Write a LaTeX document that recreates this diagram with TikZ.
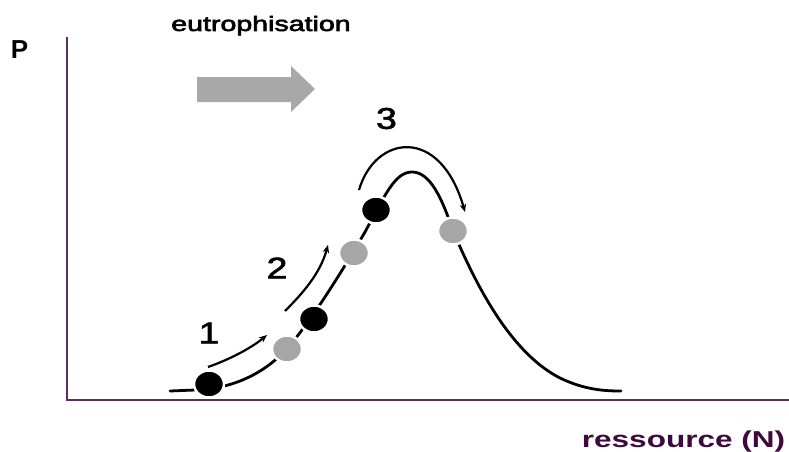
\documentclass[tikz,border=0pt]{standalone}
\usepackage{graphicx}
\usepackage{fontspec}
\setmainfont{Liberation Sans}
\newfontfamily\medfont[FakeBold=2.5]{Liberation Sans}
\newfontfamily\numfont[FakeBold=1.8]{Liberation Sans}
\usetikzlibrary{arrows.meta,shapes.geometric}
\definecolor{axiscol}{RGB}{95,45,95}
\definecolor{labcol}{RGB}{60,10,60}
\definecolor{dotgray}{RGB}{166,166,166}
\definecolor{arrgray}{RGB}{168,168,168}
\begin{document}
\begin{tikzpicture}[x=1pt,y=-1pt,
  axisline/.style={draw=axiscol,line width=1.5pt},
  curveline/.style={line width=2.8pt,line cap=round,line join=round},
  movearrow/.style={line width=2.2pt,-{Stealth[length=8pt,width=6.5pt]}},
  dotbase/.style={ellipse,minimum width=30pt,minimum height=27pt,inner sep=0pt,draw=white,line width=2.5pt},
  blackdot/.style={dotbase,fill=black},
  graydot/.style={dotbase,fill=dotgray},
  numlabel/.style={font=\numfont\fontsize{30}{32}\selectfont,inner sep=0pt}]
\useasboundingbox (0,0) rectangle (789,452);
% axes
\coordinate (origin) at (67,400);
\coordinate (ytop) at (67,37);
\coordinate (xend) at (789,400);
\draw[axisline] (ytop) -- (origin) -- (xend);
% labels
\node[font=\bfseries\fontsize{26}{28}\selectfont,inner sep=0pt] (plab) at (19.5,50) {P};
\node[anchor=base,inner sep=0pt,text=labcol,font=\bfseries\fontsize{23}{26}\selectfont] (xlab) at (683.5,447) {\scalebox{1.37}[1]{ressource (N)}};
\node[anchor=base,inner sep=0pt,font=\medfont\fontsize{21}{24}\selectfont] (eutro) at (261,31) {\scalebox{1.36}[1]{eutrophisation}};
% gray arrow
\fill[arrgray] (197,77) -- (291,77) -- (291,66) -- (315,89) -- (291,112) -- (291,102) -- (197,102) -- cycle;
% curve
\draw[curveline] (170,391) -- (195,390)
  .. controls (230,389) and (265,375) .. (290,345)
  .. controls (310,322) and (340,275) .. (365,232)
  .. controls (385,195) and (395,172) .. (412,172)
  .. controls (430,172) and (442,198) .. (453,231)
  .. controls (470,270) and (505,350) .. (560,378)
  .. controls (585,390) and (605,391) .. (621,391);
% dots
\node[blackdot] (d1) at (209,384) {};
\node[graydot] (d2) at (287,349) {};
\node[blackdot] (d3) at (314,319) {};
\node[graydot] (d4) at (354,253) {};
\node[blackdot] (d5) at (376,210) {};
\node[graydot] (d6) at (453,231) {};
% movement arrows
\coordinate (a1s) at (208,367);
\coordinate (a1e) at (267,335);
\coordinate (a2s) at (285,311);
\coordinate (a2e) at (328,245);
\coordinate (a3s) at (359,190);
\coordinate (a3e) at (465,212);
\draw[movearrow] (a1s) .. controls (228,360) and (250,349) .. (a1e);
\draw[movearrow] (a2s) .. controls (302,294) and (320,274) .. (a2e);
\draw[movearrow] (a3s) .. controls (375,135) and (440,125) .. (a3e);
% numbers
\node[numlabel] (n1) at (209,333) {\scalebox{1.25}[1]{1}};
\node[numlabel] (n2) at (277,268) {\scalebox{1.25}[1]{2}};
\node[numlabel] (n3) at (386.5,118.5) {\scalebox{1.25}[1]{3}};
\end{tikzpicture}
\end{document}
